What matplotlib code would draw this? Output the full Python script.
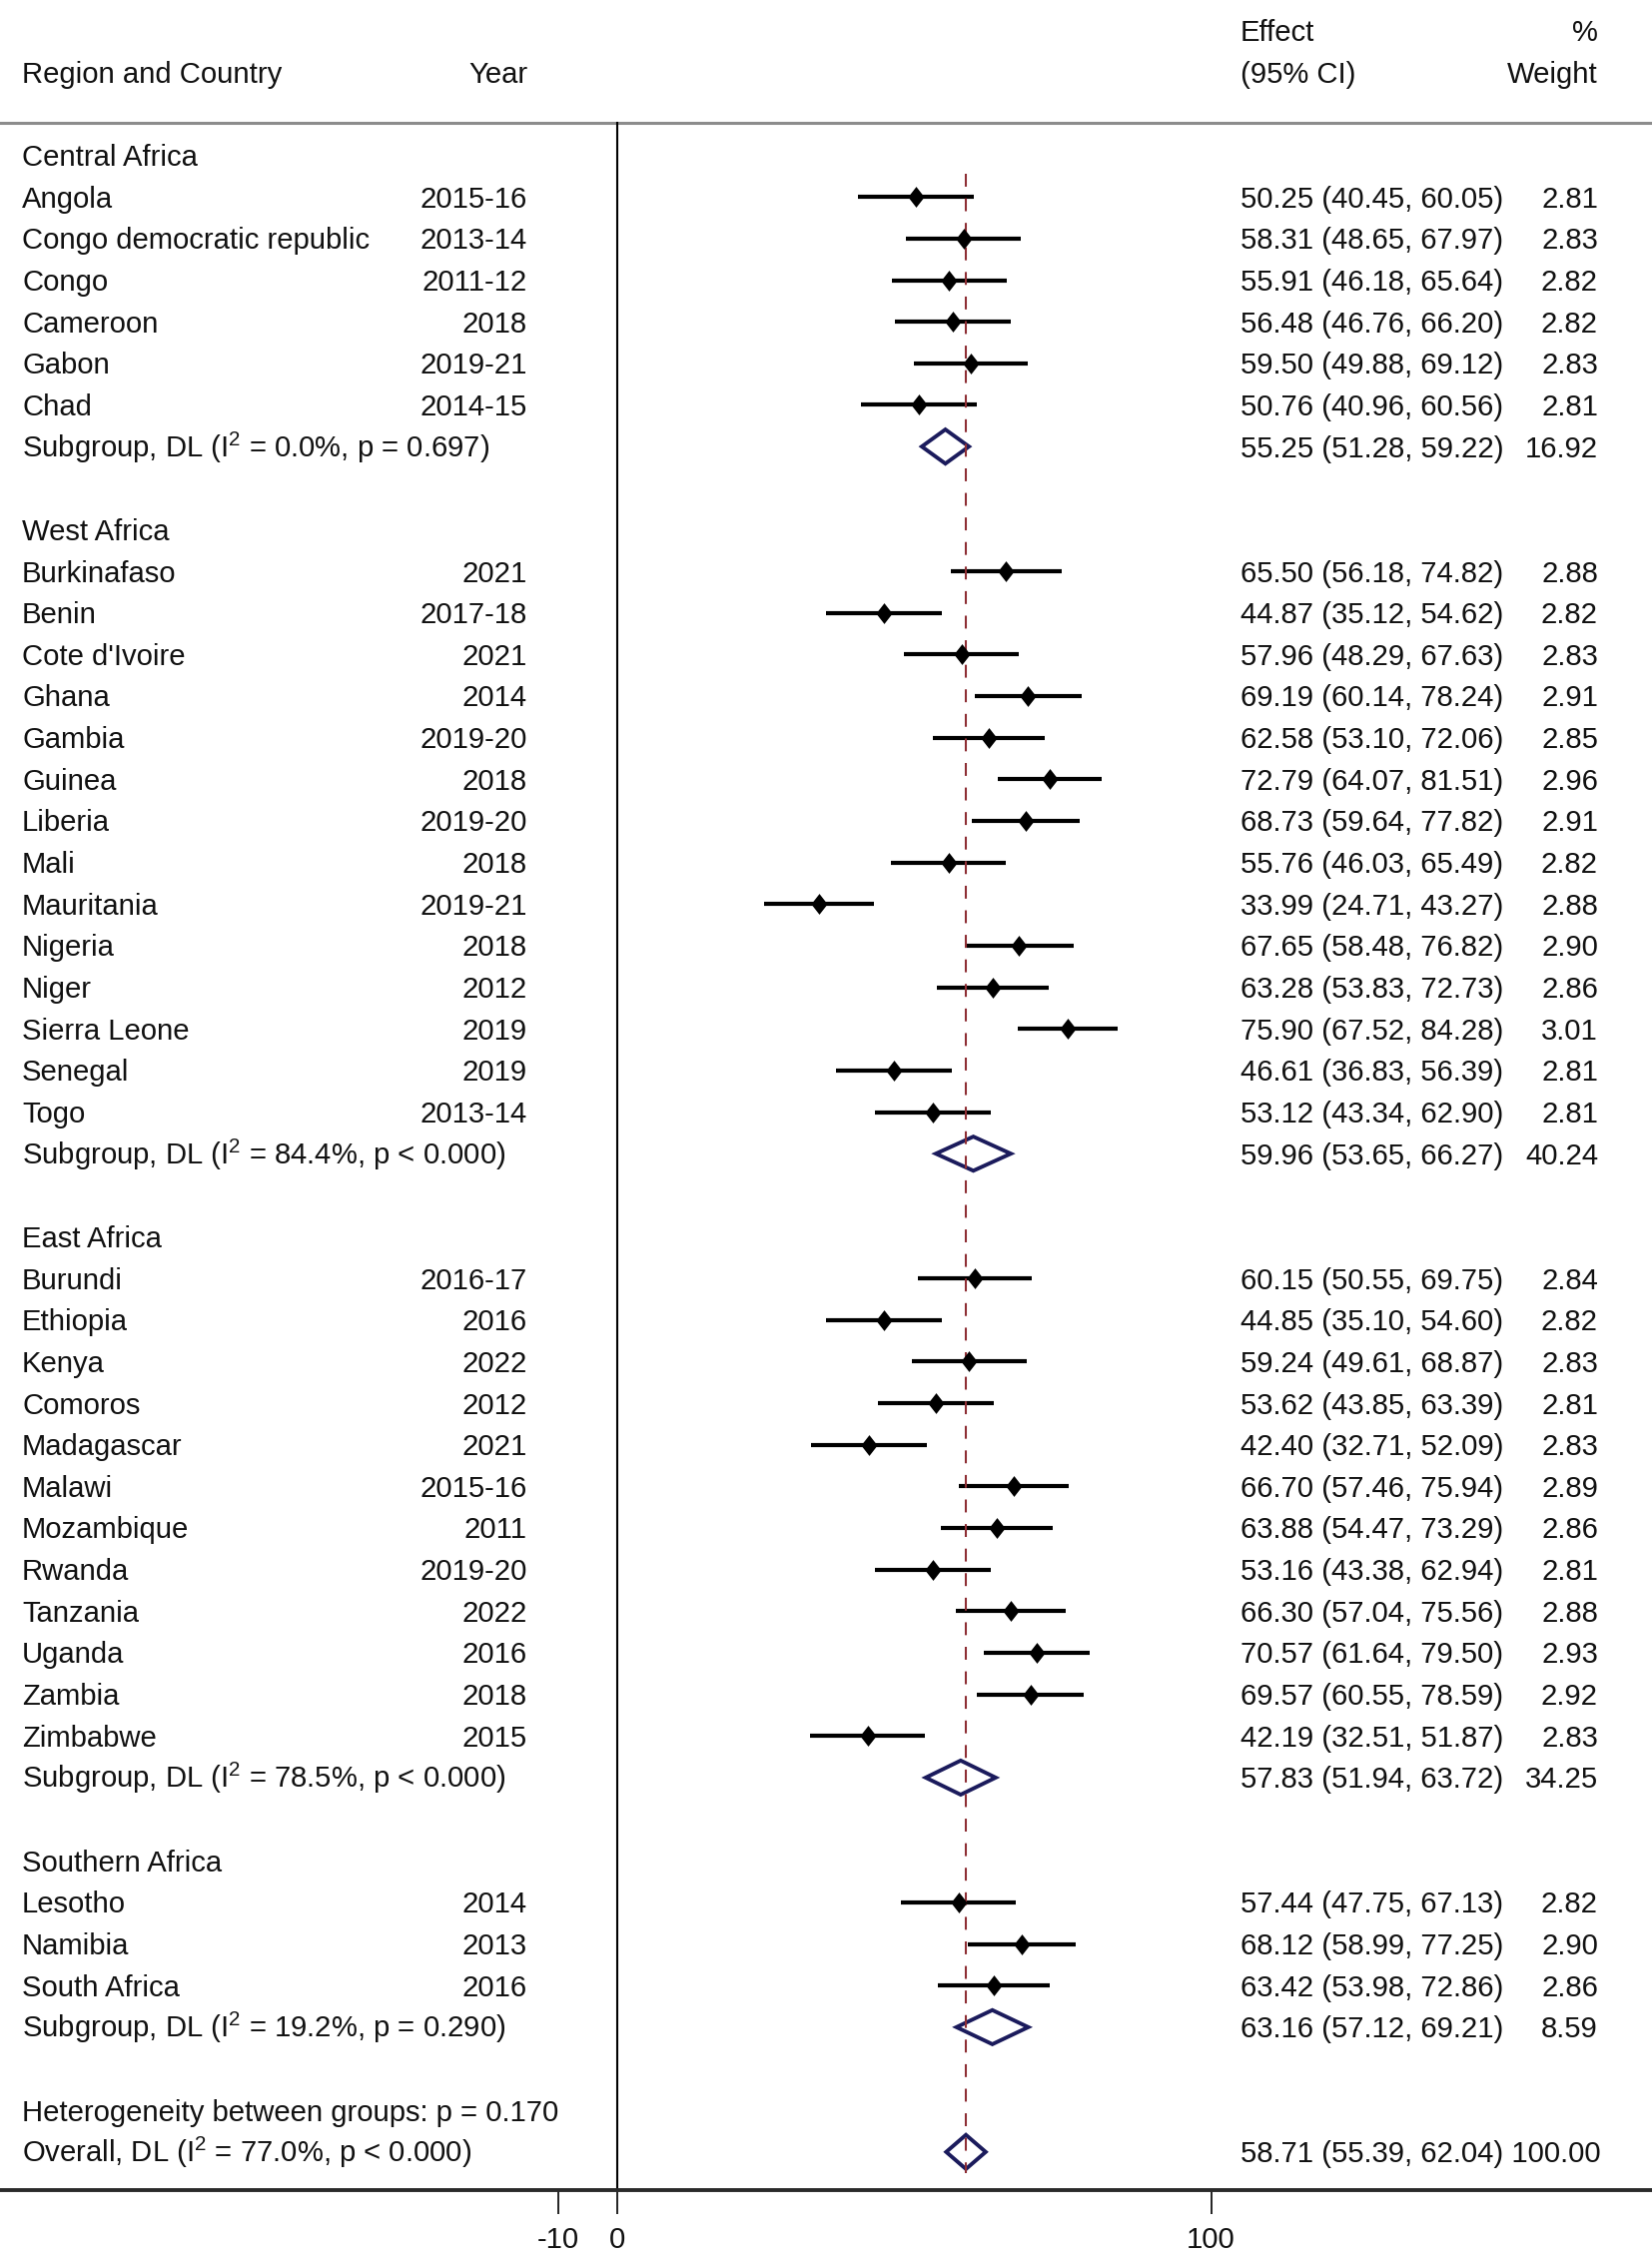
import matplotlib
matplotlib.use("Agg")
import matplotlib.pyplot as plt
from matplotlib.transforms import blended_transform_factory

plt.rcParams['font.family'] = ['Liberation Sans', 'DejaVu Sans']
plt.rcParams['mathtext.default'] = 'regular'

# ---------------- data ----------------
regions = ["Central Africa", "West Africa", "East Africa", "Southern Africa"]

countries = [
    "Angola", "Congo democratic republic", "Congo", "Cameroon", "Gabon", "Chad",
    "Burkinafaso", "Benin", "Cote d'Ivoire", "Ghana", "Gambia", "Guinea", "Liberia",
    "Mali", "Mauritania", "Nigeria", "Niger", "Sierra Leone", "Senegal", "Togo",
    "Burundi", "Ethiopia", "Kenya", "Comoros", "Madagascar", "Malawi", "Mozambique",
    "Rwanda", "Tanzania", "Uganda", "Zambia", "Zimbabwe",
    "Lesotho", "Namibia", "South Africa",
]
region_of = [0] * 6 + [1] * 14 + [2] * 12 + [3] * 3
years = [
    "2015-16", "2013-14", "2011-12", "2018", "2019-21", "2014-15",
    "2021", "2017-18", "2021", "2014", "2019-20", "2018", "2019-20",
    "2018", "2019-21", "2018", "2012", "2019", "2019", "2013-14",
    "2016-17", "2016", "2022", "2012", "2021", "2015-16", "2011",
    "2019-20", "2022", "2016", "2018", "2015",
    "2014", "2013", "2016",
]
effect = [
    50.25, 58.31, 55.91, 56.48, 59.50, 50.76,
    65.50, 44.87, 57.96, 69.19, 62.58, 72.79, 68.73,
    55.76, 33.99, 67.65, 63.28, 75.90, 46.61, 53.12,
    60.15, 44.85, 59.24, 53.62, 42.40, 66.70, 63.88,
    53.16, 66.30, 70.57, 69.57, 42.19,
    57.44, 68.12, 63.42,
]
ci_low = [
    40.45, 48.65, 46.18, 46.76, 49.88, 40.96,
    56.18, 35.12, 48.29, 60.14, 53.10, 64.07, 59.64,
    46.03, 24.71, 58.48, 53.83, 67.52, 36.83, 43.34,
    50.55, 35.10, 49.61, 43.85, 32.71, 57.46, 54.47,
    43.38, 57.04, 61.64, 60.55, 32.51,
    47.75, 58.99, 53.98,
]
ci_high = [
    60.05, 67.97, 65.64, 66.20, 69.12, 60.56,
    74.82, 54.62, 67.63, 78.24, 72.06, 81.51, 77.82,
    65.49, 43.27, 76.82, 72.73, 84.28, 56.39, 62.90,
    69.75, 54.60, 68.87, 63.39, 52.09, 75.94, 73.29,
    62.94, 75.56, 79.50, 78.59, 51.87,
    67.13, 77.25, 72.86,
]
weight = [
    2.81, 2.83, 2.82, 2.82, 2.83, 2.81,
    2.88, 2.82, 2.83, 2.91, 2.85, 2.96, 2.91,
    2.82, 2.88, 2.90, 2.86, 3.01, 2.81, 2.81,
    2.84, 2.82, 2.83, 2.81, 2.83, 2.89, 2.86,
    2.81, 2.88, 2.93, 2.92, 2.83,
    2.82, 2.90, 2.86,
]

sub_i2 = ["0.0%", "84.4%", "78.5%", "19.2%"]
sub_p = ["p = 0.697", "p < 0.000", "p < 0.000", "p = 0.290"]
sub_effect = [55.25, 59.96, 57.83, 63.16]
sub_low = [51.28, 53.65, 51.94, 57.12]
sub_high = [59.22, 66.27, 63.72, 69.21]
sub_weight = [16.92, 40.24, 34.25, 8.59]

het_between_p = "p = 0.170"
overall_i2 = "77.0%"
overall_p = "p < 0.000"
overall_effect = 58.71
overall_low = 55.39
overall_high = 62.04
overall_weight = 100.00

x_ticks = [-10, 0, 100]

# ---------------- layout ----------------
W, H = 1654, 2267
x0_px, unit_px = 618.0, 5.946
row0_px, row_px = 155.6, 41.65

fig = plt.figure(figsize=(W / 100, H / 100), dpi=100)
ax = fig.add_axes([0, 0, 1, 1])
ax.set_xlim(-x0_px / unit_px, (W - x0_px) / unit_px)
ax.set_ylim((H - row0_px) / row_px, -row0_px / row_px)

FS = 21.1
TXT_OFF = 0.25          # baseline offset (rows) so text centres on the row line
X_NAME, X_YEAR, X_EFF, X_WT = 22 / W, 528 / W, 1242 / W, 1600 / W
trans = blended_transform_factory(ax.transAxes, ax.transData)
NAVY = '#1b1b5c'
MAROON = '#8e2f35'
POINT_MARKER = [(-0.78, 0), (0, 1), (0.78, 0), (0, -1), (-0.78, 0)]


def put(x, r, s, ha='left'):
    ax.text(x, r + TXT_OFF, s, transform=trans, ha=ha, va='baseline',
            fontsize=FS, color='#111111')


# headers
put(X_EFF, -3, "Effect")
put(X_WT, -3, "%", ha='right')
put(X_NAME, -2, "Region and Country")
put(X_YEAR, -2, "Year", ha='right')
put(X_EFF, -2, "(95% CI)")
put(X_WT, -2, "Weight", ha='right')


def diamond(r, lo, est, hi):
    h = 0.41
    ax.fill([lo, est, hi, est, lo], [r, r - h, r, r + h, r], facecolor='none',
            edgecolor=NAVY, linewidth=2.8, joinstyle='miter', zorder=3)


row = 0
first_row = None
for g, reg in enumerate(regions):
    put(X_NAME, row, reg)
    row += 1
    for i in range(len(countries)):
        if region_of[i] != g:
            continue
        if first_row is None:
            first_row = row
        put(X_NAME, row, countries[i])
        put(X_YEAR, row, years[i], ha='right')
        put(X_EFF, row, f"{effect[i]:.2f} ({ci_low[i]:.2f}, {ci_high[i]:.2f})")
        put(X_WT, row, f"{weight[i]:.2f}", ha='right')
        ax.plot([ci_low[i], ci_high[i]], [row, row], color='black', lw=3.0,
                solid_capstyle='butt', zorder=2)
        ax.plot([effect[i]], [row], marker=POINT_MARKER, ms=15, color='black',
                markeredgewidth=0, zorder=5)
        row += 1
    put(X_NAME, row, f"Subgroup, DL (I$^{{2}}$ = {sub_i2[g]}, {sub_p[g]})")
    put(X_EFF, row, f"{sub_effect[g]:.2f} ({sub_low[g]:.2f}, {sub_high[g]:.2f})")
    put(X_WT, row, f"{sub_weight[g]:.2f}", ha='right')
    diamond(row, sub_low[g], sub_effect[g], sub_high[g])
    row += 2

put(X_NAME, row, f"Heterogeneity between groups: {het_between_p}")
row += 1
put(X_NAME, row, f"Overall, DL (I$^{{2}}$ = {overall_i2}, {overall_p})")
put(X_EFF, row, f"{overall_effect:.2f} ({overall_low:.2f}, {overall_high:.2f}) {overall_weight:.2f}")
diamond(row, overall_low, overall_effect, overall_high)
last_row = row

top_line = -0.79
axis_row = 48.92

# top gray rule
ax.axhline(top_line, color='#8c8c8c', lw=2.2, zorder=1)
# zero line
ax.plot([0, 0], [top_line, axis_row], color='black', lw=1.5, zorder=1)
# overall effect dashed line
ax.plot([overall_effect, overall_effect], [first_row - 0.55, last_row + 0.5],
        color=MAROON, lw=1.5, dashes=(6.2, 5.6), zorder=4)

# bottom axis
for s in ['top', 'left', 'right']:
    ax.spines[s].set_visible(False)
ax.spines['bottom'].set_position(('data', axis_row))
ax.spines['bottom'].set_color('#2a2a2a')
ax.spines['bottom'].set_linewidth(2.8)
ax.set_xticks(x_ticks)
ax.set_xticklabels([str(t) for t in x_ticks])
ax.set_yticks([])
ax.tick_params(axis='x', direction='out', length=17, width=1.3, pad=9,
               labelsize=FS, colors='#111111')

fig.savefig("out.png", dpi=100, facecolor='white')
